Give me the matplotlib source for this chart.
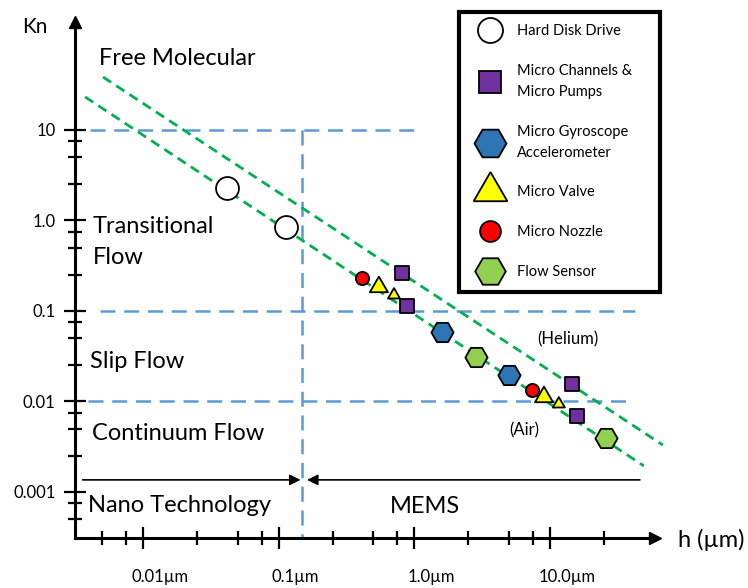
import matplotlib
matplotlib.use('Agg')
import matplotlib.pyplot as plt
from matplotlib.lines import Line2D
from matplotlib.ticker import FixedLocator, FixedFormatter, NullFormatter
from matplotlib.transforms import ScaledTranslation

plt.rcParams['font.family'] = ['Lato', 'DejaVu Sans']

# ---------------- data ----------------
hdd_h = [0.0416, 0.113]
hdd_kn = [2.29, 0.847]
chan_h = [0.811, 0.882, 14.5, 15.8]
chan_kn = [0.263, 0.1135, 0.0156, 0.00692]
gyro_h = [1.60, 4.98]
gyro_kn = [0.0586, 0.0196]
valve_h = [0.548, 0.708, 9.02, 11.6]
valve_kn = [0.184, 0.150, 0.0112, 0.00937]
valve_big = [True, False, True, False]
nozzle_h = [0.411, 7.36]
nozzle_kn = [0.232, 0.0134]
sensor_h = [2.84, 25.8]
sensor_kn = [0.0310, 0.00395]

helium_h = [0.00508, 67.8]
helium_kn = [38.5, 0.0033]
air_h = [0.00375, 49.1]
air_kn = [23.2, 0.00194]

regime_kn = [10, 0.1, 0.01]
regime_h_start = [0.0041, 0.00482, 0.00394]
regime_h_end = [1.03, 42.0, 38.0]
nano_mems_h = 0.1486

x_major = [0.01, 0.1, 1.0, 10.0]
x_major_labels = ['0.01\u00b5m', '0.1\u00b5m', '1.0\u00b5m', '10.0\u00b5m']
x_minor = [0.005, 0.0075, 0.025, 0.05, 0.075, 0.25, 0.5, 0.75,
           2.5, 5, 7.5, 25]
y_major = [0.001, 0.01, 0.1, 1.0, 10.0]
y_major_labels = ['0.001', '0.01', '0.1', '1.0', '10']
y_minor = [0.0005, 0.00075, 0.0025, 0.005, 0.0075, 0.025, 0.05, 0.075,
           0.25, 0.5, 0.75, 2.5, 5, 7.5]

legend_labels = ['Hard Disk Drive', 'Micro Channels &\nMicro Pumps',
                 'Micro Gyroscope\nAccelerometer', 'Micro Valve',
                 'Micro Nozzle', 'Flow Sensor']

# ---------------- styling ----------------
W, H = 748, 588
fig = plt.figure(figsize=(W / 100, H / 100), dpi=100)


def fx(px):
    return px / W


def fy(py):
    return 1 - py / H


ax = fig.add_axes([fx(75), fy(538), fx(655) - fx(75), fy(22) - fy(538)])
ax.set_xscale('log')
ax.set_yscale('log')
ax.set_xlim(0.00316, 59.3)
ax.set_ylim(0.000310, 156)

for s in ['top', 'right']:
    ax.spines[s].set_visible(False)
for s in ['left', 'bottom']:
    ax.spines[s].set_linewidth(2.2)
    ax.spines[s].set_color('black')

# axis arrow heads
ax.plot([1], [0], marker='>', ms=9, color='black', transform=ax.transAxes,
        clip_on=False)
ax.plot([0], [1], marker='^', ms=9, color='black', transform=ax.transAxes,
        clip_on=False)

ax.xaxis.set_major_locator(FixedLocator(x_major))
ax.xaxis.set_major_formatter(FixedFormatter(x_major_labels))
ax.xaxis.set_minor_locator(FixedLocator(x_minor))
ax.xaxis.set_minor_formatter(NullFormatter())
ax.yaxis.set_major_locator(FixedLocator(y_major))
ax.yaxis.set_major_formatter(FixedFormatter(y_major_labels))
ax.yaxis.set_minor_locator(FixedLocator(y_minor))
ax.yaxis.set_minor_formatter(NullFormatter())

ax.tick_params(which='major', direction='inout', length=16, width=1.6,
               labelsize=12, colors='black')
ax.tick_params(which='minor', direction='inout', length=10, width=1.6)
ax.tick_params(axis='x', which='major', pad=14)
ax.tick_params(axis='y', which='major', pad=6)
for lab in ax.get_xticklabels():
    lab.set_transform(lab.get_transform() +
                      ScaledTranslation(17 / 100, 0, fig.dpi_scale_trans))

blue = '#5B9BD5'
green = '#00B050'

# regime boundaries
for kn, h0, h1 in zip(regime_kn, regime_h_start, regime_h_end):
    ax.plot([h0, h1], [kn, kn], color=blue, lw=1.8, ls=(0, (6, 3.5)),
            clip_on=False, zorder=1)
ax.plot([nano_mems_h, nano_mems_h], [regime_kn[0], ax.get_ylim()[0]],
        color=blue, lw=1.8, ls=(0, (6, 3.5)), zorder=1)

# mean-free-path lines
ax.plot(helium_h, helium_kn, color=green, lw=2.0, ls=(0, (3.5, 2.2)),
        clip_on=False, zorder=2)
ax.plot(air_h, air_kn, color=green, lw=2.0, ls=(0, (3.5, 2.2)),
        clip_on=False, zorder=2)

# Nano / MEMS arrows
arrow_kn = 0.00136
ax.annotate('', xy=(0.145, arrow_kn), xytext=(0.0036, arrow_kn),
            arrowprops=dict(arrowstyle='-|>', color='black', lw=1.2,
                            mutation_scale=16, shrinkA=0, shrinkB=0))
ax.annotate('', xy=(0.162, arrow_kn), xytext=(45.9, arrow_kn),
            arrowprops=dict(arrowstyle='-|>', color='black', lw=1.2,
                            mutation_scale=16, shrinkA=0, shrinkB=0))

# markers
ek = dict(edgecolors='black', linewidths=1.3, zorder=5)
ax.scatter(hdd_h, hdd_kn, marker='o', s=16.5 ** 2, facecolors='white', **ek)
ax.scatter(chan_h, chan_kn, marker='s', s=9.5 ** 2, facecolors='#7030A0', **ek)
ax.scatter(gyro_h, gyro_kn, marker='H', s=16 ** 2, facecolors='#2E75B6', **ek)
ax.scatter(valve_h, valve_kn, marker=(3, 0, 0),
           s=[(15 if b else 10) ** 2 for b in valve_big],
           facecolors='#FFFF00', **ek)
ax.scatter(nozzle_h, nozzle_kn, marker='o', s=9.5 ** 2, facecolors='#FF0000',
           **ek)
ax.scatter(sensor_h, sensor_kn, marker='H', s=16 ** 2, facecolors='#92D050',
           **ek)

# legend
lk = dict(ls='none', markeredgecolor='black', markeredgewidth=1.3)
handles = [
    Line2D([], [], marker='o', ms=18, markerfacecolor='white', **lk),
    Line2D([], [], marker='s', ms=16, markerfacecolor='#7030A0', **lk),
    Line2D([], [], marker='H', ms=23, markerfacecolor='#2E75B6', **lk),
    Line2D([], [], marker=(3, 0, 0), ms=28, markerfacecolor='#FFFF00', **lk),
    Line2D([], [], marker='o', ms=15, markerfacecolor='#FF0000', **lk),
    Line2D([], [], marker='H', ms=22, markerfacecolor='#92D050', **lk),
]
leg = ax.legend(handles, legend_labels, loc='upper left',
                bbox_to_anchor=(fx(459), fy(291), fx(660) - fx(459),
                                fy(12) - fy(291)),
                bbox_transform=fig.transFigure, mode='expand',
                borderaxespad=0, fontsize=10.5, frameon=True, fancybox=False,
                framealpha=1, borderpad=0.85, labelspacing=1.78,
                handlelength=2.5, handletextpad=0.62, numpoints=1)
leg.get_frame().set_edgecolor('black')
leg.get_frame().set_linewidth(3)
for t in leg.get_texts():
    t.set_linespacing(1.6)

# region / annotation texts (positions in figure pixels)
tk = dict(fontsize=17, color='black', va='baseline', ha='left')
fig.text(fx(99), fy(65), 'Free Molecular', **tk)
fig.text(fx(93), fy(233), 'Transitional', **tk)
fig.text(fx(93), fy(264), 'Flow', **tk)
fig.text(fx(90), fy(368), 'Slip Flow', **tk)
fig.text(fx(92), fy(440), 'Continuum Flow', **tk)
fig.text(fx(88), fy(512), 'Nano Technology', **tk)
fig.text(fx(390), fy(513), 'MEMS', **tk)
fig.text(fx(537), fy(344), '(Helium)', fontsize=12, va='baseline')
fig.text(fx(509), fy(435), '(Air)', fontsize=12, va='baseline')
fig.text(fx(22), fy(33), 'Kn', fontsize=15, va='baseline')
fig.text(fx(678), fy(547), 'h (\u00b5m)', fontsize=17, va='baseline')

fig.savefig('out.png', dpi=100)
